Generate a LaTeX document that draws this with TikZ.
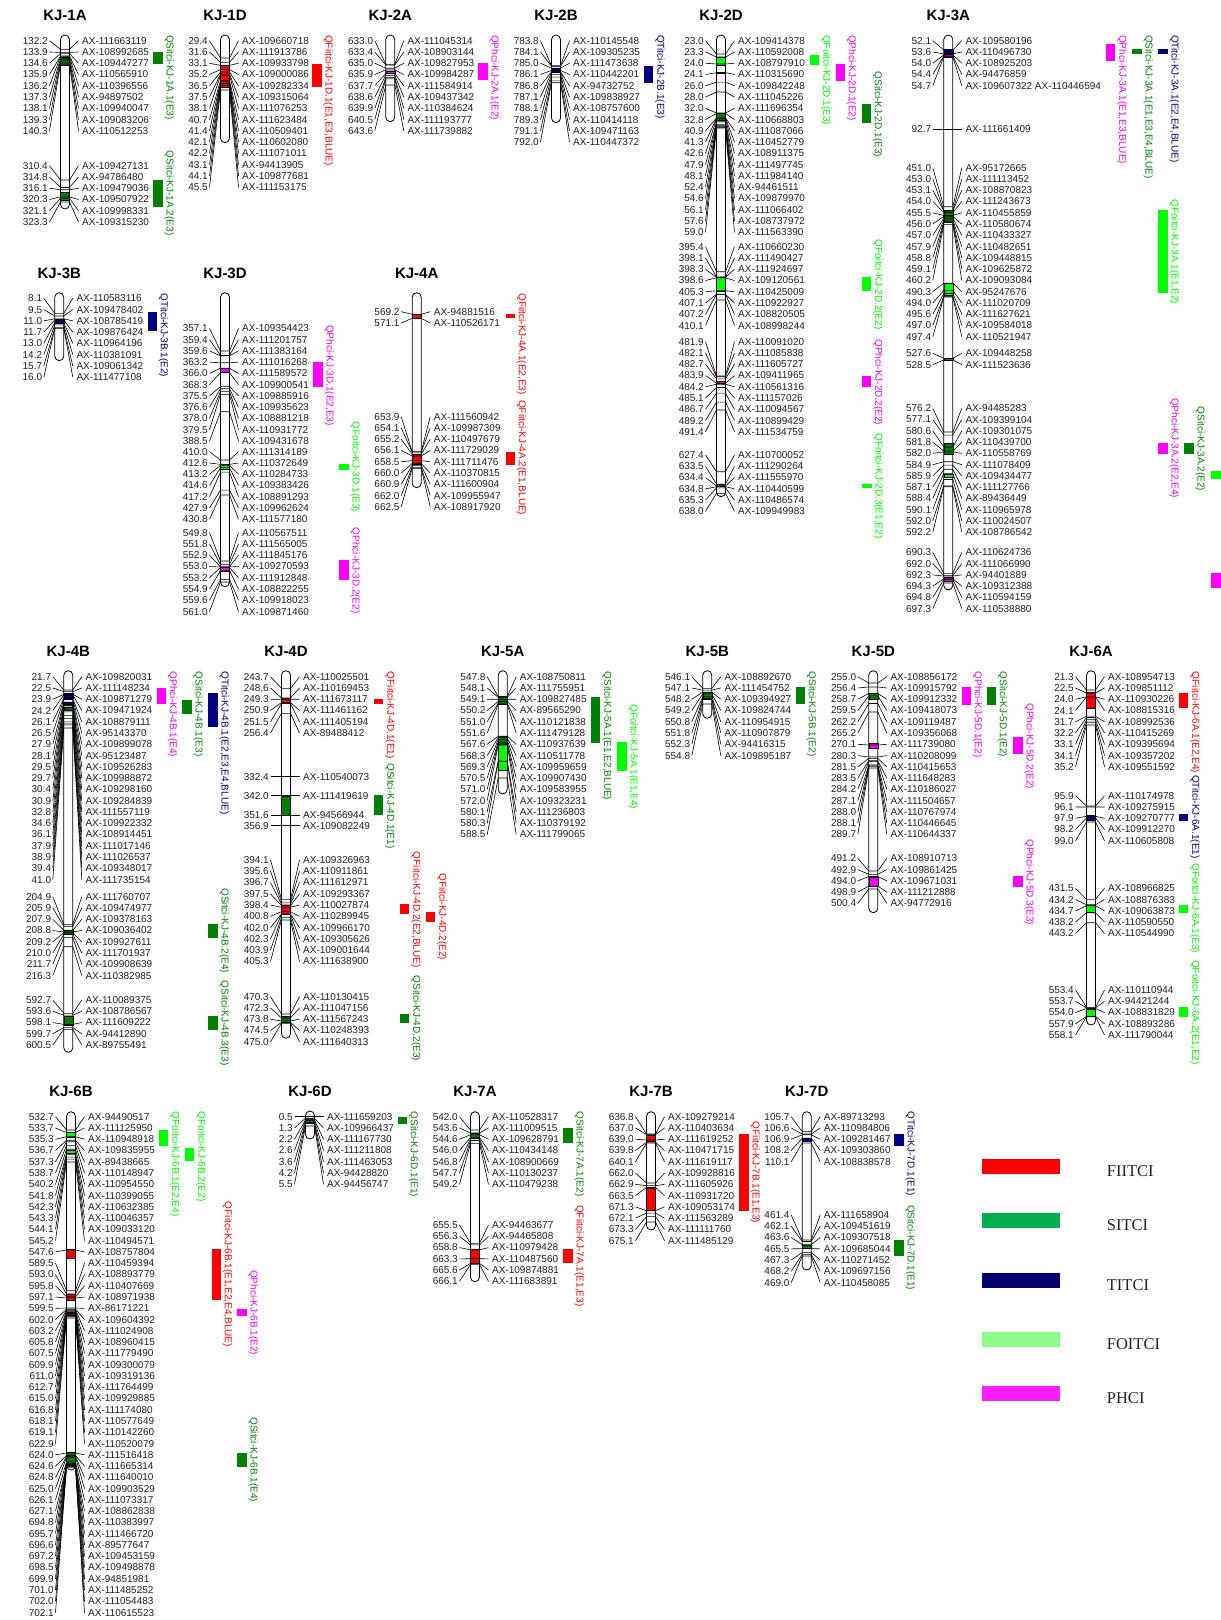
\documentclass[tikz,border=0pt]{standalone}
\usepackage{fontspec}
\setmainfont{Liberation Sans}
\newfontfamily\legendfont{Liberation Serif}
\usepackage{tikz}
\usetikzlibrary{calc}
\definecolor{qfii}{RGB}{255,0,0}
\definecolor{qsit}{RGB}{0,128,0}
\definecolor{qtit}{RGB}{0,0,128}
\definecolor{qfoi}{RGB}{0,255,0}
\definecolor{qphc}{RGB}{255,0,255}
\definecolor{legsit}{RGB}{0,176,80}
\definecolor{legtit}{RGB}{0,0,115}
\definecolor{legfoi}{RGB}{140,255,140}
\definecolor{legphc}{RGB}{255,30,255}

\newcommand{\lblfont}{\fontsize{10}{12}\selectfont}
\tikzset{
	chrtitle/.style={font=\bfseries\fontsize{15}{18}\selectfont},
	chrbar/.style={draw=black, line width=0.8pt, fill=white, rounded corners=4.5pt},
	poslab/.style={anchor=east, inner sep=0pt, font=\lblfont, text=black!88},
	mkrlab/.style={anchor=west, inner sep=0pt, font=\lblfont, text=black!88},
	mline/.style={line width=0.6pt, black, line join=round},
	qtllab/.style={rotate=-90, anchor=south west, inner sep=0pt, font=\lblfont},
	legtext/.style={anchor=base west, inner sep=0pt, text=black!87, font=\legendfont\fontsize{16.5}{20}\selectfont}
}
% name, x, title y, bar top, bar bottom, title
\newcommand{\chrom}[6]{
	\node[chrtitle] (#1) at (#2,#3) {#6};
	\draw[chrbar] (#2-4.5,#4) rectangle (#2+4.5,#5);
}
\newcommand{\band}[4]{
	\filldraw[fill=#4, draw=black, line width=0.4pt] (#1-4.5,#2) rectangle (#1+4.5,#3);
}
% prefix, x, first label y, cM0, bar y0, cM1, bar y1, markers
\newcommand{\mkgroup}[8]{
	\foreach \cm/\mk [count=\i from 0] in {#8}{
		\pgfmathsetmacro{\ly}{#3+\i*11.27}
		\pgfmathsetmacro{\by}{#5+(\cm-#4)*(#7-#5)/(#6-#4)}
		\node[poslab] (#1p\i) at (#2-17,\ly) {\cm};
		\node[mkrlab] (#1m\i) at (#2+17,\ly) {\mk};
		\draw[mline] ([xshift=1.5pt]#1p\i.east) -- (#2-4.5,\by) -- (#2+4.5,\by) -- ([xshift=-3.5pt]#1m\i.west);
	}
}
% name, x, y1, y2, colour, text y, text
\newcommand{\qtl}[7]{
	\fill[#5] (#2,#3) rectangle (#2+9.3,#4);
	\node[qtllab, text=#5] (#1) at (#2+11,#6) {#7};
}

\begin{document}
\begin{tikzpicture}[x=1pt, y=-1pt]
	\useasboundingbox[fill=white] (0,0) rectangle (1221,1620);

	% KJ-1A
	\chrom{c1A}{65}{15}{35}{209}{KJ-1A}
	\band{65}{57}{65}{qsit}
	\band{65}{191.7}{200}{qsit}
	\mkgroup{a1}{65}{40.7}{132.2}{49.3}{140.3}{64}{132.2/AX-111663119, 133.9/AX-108992685, 134.6/AX-109447277, 135.9/AX-110565910, 136.2/AX-110396556, 137.3/AX-94897502, 138.1/AX-109940047, 139.3/AX-109083206, 140.3/AX-110512253}
	\mkgroup{a2}{65}{165.7}{310.4}{180}{323.3}{202}{310.4/AX-109427131, 314.8/AX-94786480, 316.1/AX-109479036, 320.3/AX-109507922, 321.1/AX-109998331, 323.3/AX-109315230}
	\qtl{q1A1}{153.3}{51.7}{64}{qsit}{35}{QSitci-KJ-1A.1(E3)}
	\qtl{q1A2}{153.3}{180}{206.7}{qsit}{150.7}{QSitci-KJ-1A.2(E3)}

	% KJ-1D
	\chrom{c1D}{225}{15}{35}{142.7}{KJ-1D}
	\band{225}{65}{87.3}{qfii}
	\mkgroup{d1}{225}{40.7}{29.4}{58}{45.5}{90}{29.4/AX-109660718, 31.6/AX-111913786, 33.1/AX-109933798, 35.2/AX-109000086, 36.5/AX-109282334, 37.5/AX-109315064, 38.1/AX-111076253, 40.7/AX-111623484, 41.4/AX-110509401, 42.1/AX-110602080, 42.2/AX-111071011, 43.1/AX-94413905, 44.1/AX-109877681, 45.5/AX-111153175}
	\qtl{q1D1}{312.3}{64.3}{87.3}{qfii}{35}{QFiitci-KJ-1D.1(E1,E3,BLUE)}

	% KJ-2A
	\chrom{c2A}{390.3}{15}{35}{121.7}{KJ-2A}
	\band{390.3}{70.7}{73.3}{qphc}
	\mkgroup{e1}{390.3}{40.7}{633.0}{64.3}{643.6}{85}{633.0/AX-111045314, 633.4/AX-108903144, 635.0/AX-109827953, 635.9/AX-109984287, 637.7/AX-111584914, 638.6/AX-109437342, 639.9/AX-110384624, 640.5/AX-111193777, 643.6/AX-111739882}
	\qtl{q2A1}{478.3}{63.3}{80}{qphc}{35}{QPhci-KJ-2A.1(E2)}

	% KJ-2B
	\chrom{c2B}{556}{15}{35}{122.7}{KJ-2B}
	\band{556}{68.3}{71.7}{qtit}
	\mkgroup{f1}{556}{40.7}{783.8}{65.7}{792.0}{82.7}{783.8/AX-110145548, 784.1/AX-109305235, 785.0/AX-111473638, 786.1/AX-110442201, 786.8/AX-94732752, 787.1/AX-109838927, 788.1/AX-108757600, 789.3/AX-110414118, 791.1/AX-109471163, 792.0/AX-110447372}
	\qtl{q2B1}{644}{65.7}{83.3}{qtit}{35}{QTitci-KJ-2B.1(E3)}

	% KJ-2D
	\chrom{c2D}{721}{15}{35}{496.7}{KJ-2D}
	\band{721}{56.7}{65}{qfoi}
	\band{721}{72}{73.5}{qphc}
	\band{721}{113.3}{120}{qsit}
	\band{721}{276.7}{290.7}{qfoi}
	\band{721}{381}{383}{qphc}
	\band{721}{484}{486}{qsit}
	\mkgroup{g1}{721}{40.7}{23.0}{54}{24.0}{64}{23.0/AX-109414378, 23.3/AX-110592008, 24.0/AX-108797910}
	\mkgroup{g2}{721}{74.5}{24.1}{72.7}{28.0}{92}{24.1/AX-110315690, 26.0/AX-109842248, 28.0/AX-111045226}
	\mkgroup{g3}{721}{108.3}{32.0}{113}{59.0}{128}{32.0/AX-111696354, 32.8/AX-110668803, 40.9/AX-111087066, 41.3/AX-110452779, 42.6/AX-108911375, 47.9/AX-111497745, 48.1/AX-111984140, 52.4/AX-94461511, 54.6/AX-109879970, 56.1/AX-111066402, 57.6/AX-108737972, 59.0/AX-111563390}
	\mkgroup{g4}{721}{246.7}{395.4}{271.7}{410.1}{300}{395.4/AX-110660230, 398.1/AX-111490427, 398.3/AX-111924697, 398.6/AX-109120561, 405.3/AX-110425009, 407.1/AX-110922927, 407.2/AX-108820505, 410.1/AX-108998244}
	\mkgroup{g5}{721}{341.7}{481.9}{376}{491.4}{410}{481.9/AX-110091020, 482.1/AX-111085838, 482.7/AX-111605727, 483.9/AX-109411965, 484.2/AX-110561316, 485.1/AX-111157026, 486.7/AX-110094567, 489.2/AX-110899429, 491.4/AX-111534759}
	\mkgroup{g6}{721}{455}{627.4}{471.7}{638.0}{493.3}{627.4/AX-110700052, 633.5/AX-111290264, 634.4/AX-111555970, 634.8/AX-110440599, 635.3/AX-110486574, 638.0/AX-109949983}
	\qtl{q2D1}{810}{55}{65}{qfoi}{35}{QFoitci-KJ-2D.1(E3)}
	\qtl{q2D2}{835.7}{64}{81}{qphc}{35}{QPhci-KJ-2D.1(E2)}
	\qtl{q2D3}{861.7}{104.3}{123.3}{qsit}{71.7}{QSitci-KJ-2D.1(E3)}
	\qtl{q2D4}{862}{277.3}{291}{qfoi}{239.3}{QFoitci-KJ-2D.2(E2)}
	\qtl{q2D5}{862}{376}{386.7}{qphc}{339.3}{QPhci-KJ-2D.2(E2)}
	\qtl{q2D6}{862.3}{484}{488.3}{qfoi}{433.3}{QFoitci-KJ-2D.3(E1,E2)}

	% KJ-3A
	\chrom{c3A}{948.3}{15}{35}{590}{KJ-3A}
	\band{948.3}{49.3}{53.3}{qtit}
	\band{948.3}{54}{56.7}{qphc}
	\band{948.3}{210}{221.7}{qsit}
	\band{948.3}{282.7}{295}{qfoi}
	\band{948.3}{358}{360}{black!40}
	\band{948.3}{443.3}{454.3}{qsit}
	\band{948.3}{474}{476.7}{qfoi}
	\band{948.3}{577.3}{580.7}{qphc}
	\mkgroup{h1}{948.3}{40.7}{52.1}{50}{54.7}{56.7}{52.1/AX-109580196, 53.6/AX-110496730, 54.0/AX-108925203, 54.4/AX-94476859, 54.7/AX-109607322 AX-110446594}
	\mkgroup{h2}{948.3}{129.3}{92.7}{129.3}{93.7}{129.3}{92.7/AX-111661409}
	\mkgroup{h3}{948.3}{167.7}{451.0}{206.7}{497.4}{297}{451.0/AX-95172665, 453.0/AX-111113452, 453.1/AX-108870823, 454.0/AX-111243673, 455.5/AX-110455859, 456.0/AX-110580674, 457.0/AX-110433327, 457.9/AX-110482651, 458.8/AX-109448815, 459.1/AX-109625872, 460.2/AX-109093084, 490.3/AX-95247676, 494.0/AX-111020709, 495.6/AX-111627621, 497.0/AX-109584018, 497.4/AX-110521947}
	\mkgroup{h4}{948.3}{353.3}{527.6}{358.3}{528.5}{360}{527.6/AX-109448258, 528.5/AX-111523636}
	\mkgroup{h5}{948.3}{408.3}{576.2}{432}{592.2}{486.7}{576.2/AX-94485283, 577.1/AX-109399104, 580.6/AX-109301075, 581.8/AX-110439700, 582.0/AX-110558769, 584.9/AX-111078409, 585.9/AX-109434477, 587.1/AX-111127766, 588.4/AX-89436449, 590.1/AX-110965978, 592.0/AX-110024507, 592.2/AX-108786542}
	\mkgroup{h6}{948.3}{552.3}{690.3}{573.3}{697.3}{583}{690.3/AX-110624736, 692.0/AX-111066990, 692.3/AX-94401889, 694.3/AX-109312388, 694.8/AX-110594159, 697.3/AX-110538880}
	\qtl{q3A1}{1106}{44.3}{61}{qphc}{35}{QPhci-KJ-3A.1(E1,E3,BLUE)}
	\qtl{q3A2}{1132.3}{49}{54.3}{qsit}{35}{QSitci-KJ-3A.1(E1,E3,E4,BLUE)}
	\qtl{q3A3}{1158.3}{49}{54.3}{qtit}{35}{QTitci-KJ-3A.1(E2,E4,BLUE)}
	\qtl{q3A4}{1158.3}{210}{293.3}{qfoi}{199.3}{QFoitci-KJ-3A.1(E1,E2)}
	\qtl{q3A5}{1158.3}{443.3}{454.3}{qphc}{398}{QPhci-KJ-3A.2(E2,E4)}
	\qtl{q3A6}{1184.3}{442.7}{454.3}{qsit}{406.5}{QSitci-KJ-3A.2(E2)}
	\fill[qfoi] (1211,470.7) rectangle (1221,479);
	\fill[qphc] (1211,573.3) rectangle (1221,587.7);

	% KJ-3B
	\chrom{c3B}{59.3}{273.3}{292.7}{360.7}{KJ-3B}
	\band{59.3}{319.3}{323.3}{qtit}
	\mkgroup{i1}{59.3}{298.3}{8.1}{313.3}{16.0}{328.3}{8.1/AX-110583116, 9.5/AX-109478402, 11.0/AX-108785419, 11.7/AX-109876424, 13.0/AX-110964196, 14.2/AX-110381091, 15.7/AX-109061342, 16.0/AX-111477108}
	\qtl{q3B1}{147.7}{312.3}{330.7}{qtit}{293.3}{QTitci-KJ-3B.1(E2)}

	% KJ-3D
	\chrom{c3D}{225}{273.3}{292.7}{586.7}{KJ-3D}
	\band{225}{368.3}{372.3}{qphc}
	\band{225}{464.3}{469.3}{qfoi}
	\band{225}{567.3}{570.7}{qphc}
	\mkgroup{j1}{225}{328.3}{357.1}{351}{388.5}{411.7}{357.1/AX-109354423, 359.4/AX-111201757, 359.6/AX-111383164, 363.2/AX-111016268, 366.0/AX-111589572, 368.3/AX-109900541, 375.5/AX-109885916, 376.6/AX-109935623, 378.0/AX-108881218, 379.5/AX-110931772, 388.5/AX-109431678}
	\mkgroup{j2}{225}{451.7}{410.0}{460}{430.8}{495}{410.0/AX-111314189, 412.6/AX-110372649, 413.2/AX-110284733, 414.6/AX-109383426, 417.2/AX-108891293, 427.9/AX-109962624, 430.8/AX-111577180}
	\mkgroup{j3}{225}{532.7}{549.8}{561}{561.0}{582}{549.8/AX-110567511, 551.8/AX-111565005, 552.9/AX-111845176, 553.0/AX-109270593, 553.2/AX-111912848, 554.9/AX-108822255, 559.6/AX-109918023, 561.0/AX-109871460}
	\qtl{q3D1}{313.3}{362.3}{387.3}{qphc}{325}{QPhci-KJ-3D.1(E2,E3)}
	\qtl{q3D2}{339.3}{464}{470}{qfoi}{421.7}{QFoitci-KJ-3D.1(E3)}
	\qtl{q3D3}{339.3}{560}{580}{qphc}{527.7}{QPhci-KJ-3D.2(E2)}

	% KJ-4A
	\chrom{c4A}{416.7}{273.3}{292.7}{487.7}{KJ-4A}
	\band{416.7}{314.3}{318.3}{qfii}
	\band{416.7}{454.3}{464.3}{qfii}
	\mkgroup{k1}{416.7}{311.7}{569.2}{314.3}{571.1}{318.3}{569.2/AX-94881516, 571.1/AX-110526171}
	\mkgroup{k2}{416.7}{416.7}{653.9}{451.7}{662.5}{468.3}{653.9/AX-111560942, 654.1/AX-109987309, 655.2/AX-110497679, 656.1/AX-111729029, 658.5/AX-111711476, 660.0/AX-110370815, 660.9/AX-111600904, 662.0/AX-109955947, 662.5/AX-108917920}
	\qtl{q4A1}{505.7}{314.3}{318.3}{qfii}{293.3}{QFiitci-KJ-4A.1(E2,E3)}
	\qtl{q4A2}{505.7}{452.3}{465}{qfii}{400}{QFiitci-KJ-4A.2(E1,BLUE)}

	% KJ-4B
	\chrom{c4B}{68.3}{651.7}{670.7}{1052.3}{KJ-4B}
	\band{68.3}{693.3}{698.3}{qtit}
	\band{68.3}{701.7}{704.3}{qtit}
	\band{68.3}{706.7}{710}{qsit}
	\band{68.3}{930}{934}{qsit}
	\band{68.3}{1016}{1025}{qsit}
	\mkgroup{l1}{68.3}{676.7}{21.7}{690}{41.0}{728}{21.7/AX-109820031, 22.5/AX-111148234, 23.9/AX-109871279, 24.2/AX-109471924, 26.1/AX-108879111, 26.5/AX-95143370, 27.9/AX-109899078, 28.1/AX-95123487, 29.5/AX-109526283, 29.7/AX-109988872, 30.4/AX-109298160, 30.9/AX-109284839, 32.8/AX-111557119, 34.6/AX-109922332, 36.1/AX-108914451, 37.9/AX-111017146, 38.9/AX-111026537, 39.4/AX-109348017, 41.0/AX-111735154}
	\mkgroup{l2}{68.3}{896.7}{204.9}{924.3}{216.3}{946.7}{204.9/AX-111760707, 205.9/AX-109474977, 207.9/AX-109378163, 208.8/AX-109036402, 209.2/AX-109927611, 210.0/AX-111701937, 211.7/AX-109908639, 216.3/AX-110382985}
	\mkgroup{l3}{68.3}{1000}{592.7}{1013.3}{600.5}{1029.3}{592.7/AX-110089375, 593.6/AX-108786567, 598.1/AX-111609222, 599.7/AX-94412890, 600.5/AX-89755491}
	\qtl{q4B1}{156.7}{687.7}{704.3}{qphc}{671.7}{QPhci-KJ-4B.1(E4)}
	\qtl{q4B2}{182.3}{700}{714.3}{qsit}{671.7}{QSitci-KJ-4B.1(E3)}
	\qtl{q4B3}{208.3}{693.3}{727.3}{qtit}{671.7}{QTitci-KJ-4B.1(E2,E3,E4,BLUE)}
	\qtl{q4B4}{208.3}{924}{938.3}{qsit}{888.3}{QSitci-KJ-4B.2(E4)}
	\qtl{q4B5}{208.3}{1015.7}{1030}{qsit}{980.7}{QSitci-KJ-4B.3(E3)}

	% KJ-4D
	\chrom{c4D}{286}{651.7}{670.7}{1038.3}{KJ-4D}
	\band{286}{698.3}{703.3}{qfii}
	\band{286}{795.7}{815}{qsit}
	\band{286}{905}{914}{qfii}
	\band{286}{1016}{1022}{qsit}
	\mkgroup{m1}{286}{676.7}{243.7}{688.3}{256.4}{713.3}{243.7/AX-110025501, 248.6/AX-110169453, 249.3/AX-111673117, 250.9/AX-111461162, 251.5/AX-111405194, 256.4/AX-89488412}
	\mkgroup{m2}{286}{776.7}{332.4}{776.7}{333.4}{776.7}{332.4/AX-110540073}
	\mkgroup{m3}{286}{795.7}{342.0}{795.7}{343.0}{795.7}{342.0/AX-111419619}
	\mkgroup{m4}{286}{815}{351.6}{815}{352.6}{815}{351.6/AX-94566944}
	\mkgroup{m5}{286}{825.7}{356.9}{825.7}{357.9}{825.7}{356.9/AX-109082249}
	\mkgroup{m6}{286}{860}{394.1}{899.3}{405.3}{920}{394.1/AX-109326963, 395.6/AX-110911861, 396.7/AX-111612971, 397.5/AX-109293367, 398.4/AX-110027874, 400.8/AX-110289945, 402.0/AX-109966170, 402.3/AX-109305626, 403.9/AX-109001644, 405.3/AX-111638900}
	\mkgroup{m7}{286}{996.7}{470.3}{1014}{475.0}{1023.3}{470.3/AX-110130415, 472.3/AX-111047156, 473.8/AX-111567243, 474.5/AX-110248393, 475.0/AX-111640313}
	\qtl{q4D1}{374}{699}{704.3}{qfii}{671.7}{QFiitci-KJ-4D.1(E1)}
	\qtl{q4D2}{374}{795}{815}{qsit}{763.3}{QSitci-KJ-4D.1(E1)}
	\qtl{q4D3}{400}{904.3}{914.3}{qfii}{851.7}{QFiitci-KJ-4D.2(E2,BLUE)}
	\qtl{q4D4}{426}{911.7}{921.7}{qfii}{873.3}{QFiitci-KJ-4D.2(E2)}
	\qtl{q4D5}{400}{1014}{1023.3}{qsit}{975.7}{QSitci-KJ-4D.2(E3)}

	% KJ-5A
	\chrom{c5A}{502.7}{651.7}{670.7}{794}{KJ-5A}
	\band{502.7}{696}{704}{qsit}
	\band{502.7}{736}{744.3}{qsit}
	\band{502.7}{744.3}{770}{qfoi}
	\mkgroup{n1}{502.7}{676.7}{547.8}{696.7}{588.5}{778}{547.8/AX-108750811, 548.1/AX-111755951, 549.1/AX-109827485, 550.2/AX-89565290, 551.0/AX-110121838, 551.6/AX-111479128, 567.6/AX-110937639, 568.3/AX-110511778, 569.3/AX-109959659, 570.5/AX-109907430, 571.0/AX-109583955, 572.0/AX-109323231, 580.1/AX-111236803, 580.3/AX-110379192, 588.5/AX-111799065}
	\qtl{q5A1}{591}{696.7}{742.7}{qsit}{671.7}{QSitci-KJ-5A.1(E1,E2,BLUE)}
	\qtl{q5A2}{617.3}{742.3}{770.7}{qfoi}{704.3}{QFoitci-KJ-5A.1(E1,E4)}

	% KJ-5B
	\chrom{c5B}{707.3}{651.7}{670.7}{718.3}{KJ-5B}
	\band{707.3}{692.3}{698.3}{qsit}
	\mkgroup{o1}{707.3}{676.7}{546.1}{688.3}{554.8}{704}{546.1/AX-108892670, 547.1/AX-111454752, 548.2/AX-109394927, 549.2/AX-109824744, 550.8/AX-110954915, 551.8/AX-110907879, 552.3/AX-94416315, 554.8/AX-109895187}
	\qtl{q5B1}{795.7}{686.7}{704.3}{qsit}{671.7}{QSitci-KJ-5B.1(E2)}

	% KJ-5D
	\chrom{c5D}{873.3}{651.7}{670.7}{912.7}{KJ-5D}
	\band{873.3}{693.3}{699}{qsit}
	\band{873.3}{743.3}{748.3}{qphc}
	\band{873.3}{876.7}{886}{qphc}
	\mkgroup{r1}{873.3}{676.7}{255.0}{683}{265.2}{712}{255.0/AX-108856172, 256.4/AX-109915792, 258.7/AX-109912332, 259.5/AX-109418073, 262.2/AX-109119487, 265.2/AX-109356068}
	\mkgroup{r2}{873.3}{744.3}{270.1}{745}{289.7}{768}{270.1/AX-111739080, 280.3/AX-110208099, 281.5/AX-110415653, 283.5/AX-111648283, 284.2/AX-110186027, 287.1/AX-111504657, 288.0/AX-110767974, 288.1/AX-110446645, 289.7/AX-110644337}
	\mkgroup{r3}{873.3}{858.3}{491.2}{871}{500.4}{889}{491.2/AX-108910713, 492.9/AX-109861425, 494.0/AX-109671031, 498.9/AX-111212888, 500.4/AX-94772916}
	\qtl{q5D1}{961.7}{687.3}{705}{qphc}{671.7}{QPhci-KJ-5D.1(E2)}
	\qtl{q5D2}{986.7}{687.3}{705}{qsit}{671.7}{QSitci-KJ-5D.1(E2)}
	\qtl{q5D3}{1013.3}{737.3}{754.3}{qphc}{703.3}{QPhci-KJ-5D.2(E2)}
	\qtl{q5D4}{1013.3}{876}{886.7}{qphc}{839.3}{QPhci-KJ-5D.3(E3)}

	% KJ-6A
	\chrom{c6A}{1091}{651.7}{670.7}{1025}{KJ-6A}
	\band{1091}{692.3}{708.3}{qfii}
	\band{1091}{815}{820}{qtit}
	\band{1091}{905}{911.7}{qfoi}
	\band{1091}{1009}{1015.7}{qfoi}
	\mkgroup{s1}{1091}{676.7}{21.3}{690}{35.2}{725}{21.3/AX-108954713, 22.5/AX-109851112, 24.0/AX-110930226, 24.1/AX-108815316, 31.7/AX-108992536, 32.2/AX-110415269, 33.1/AX-109395694, 34.1/AX-109357202, 35.2/AX-109551592}
	\mkgroup{s2}{1091}{795.7}{95.9}{806}{99.0}{822}{95.9/AX-110174978, 96.1/AX-109275915, 97.9/AX-109270777, 98.2/AX-109912270, 99.0/AX-110605808}
	\mkgroup{s3}{1091}{888.3}{431.5}{899.3}{443.2}{922.7}{431.5/AX-108966825, 434.2/AX-108876383, 434.7/AX-109063873, 438.2/AX-110590550, 443.2/AX-110544990}
	\mkgroup{s4}{1091}{990}{553.4}{1007.3}{558.1}{1016.7}{553.4/AX-110110944, 553.7/AX-94421244, 554.0/AX-108831829, 557.9/AX-108893286, 558.1/AX-111790044}
	\qtl{q6A1}{1179}{693.3}{708.3}{qfii}{671.7}{QFiitci-KJ-6A.1(E2,E4)}
	\qtl{q6A2}{1179}{814}{821}{qtit}{775}{QTitci-KJ-6A.1(E1)}
	\qtl{q6A3}{1179}{905}{912.7}{qfoi}{863.3}{QFoitci-KJ-6A.1(E3)}
	\qtl{q6A4}{1179}{1007.3}{1017.3}{qfoi}{960}{QFoitci-KJ-6A.2(E1,E2)}

	% KJ-6B
	\chrom{c6B}{71}{1091}{1111.7}{1470}{KJ-6B}
	\band{71}{1131.7}{1136.7}{qfoi}
	\band{71}{1150}{1153.3}{qfoi}
	\band{71}{1249.3}{1258.3}{qfii}
	\band{71}{1294}{1300}{qfii}
	\band{71}{1313}{1315}{qphc}
	\band{71}{1452.3}{1463.3}{qsit}
	\mkgroup{u1}{71}{1116.7}{532.7}{1130}{545.2}{1162}{532.7/AX-94490517, 533.7/AX-111125950, 535.3/AX-110948918, 536.7/AX-109835955, 537.3/AX-89438665, 538.7/AX-110148947, 540.2/AX-110954550, 541.8/AX-110399055, 542.3/AX-110632385, 543.3/AX-110046357, 544.1/AX-109033120, 545.2/AX-110494571}
	\mkgroup{u2}{71}{1251.9}{547.6}{1250}{597.1}{1298}{547.6/AX-108757804, 589.5/AX-110459394, 593.0/AX-108893779, 595.8/AX-110407669, 597.1/AX-108971938}
	\mkgroup{u3}{71}{1308.3}{599.5}{1308}{622.9}{1318}{599.5/AX-86171221, 602.0/AX-109604392, 603.2/AX-111024908, 605.8/AX-108960415, 607.5/AX-111779490, 609.9/AX-109300079, 611.0/AX-109319136, 612.7/AX-111764499, 615.0/AX-109929885, 616.8/AX-111174080, 618.1/AX-110577649, 619.1/AX-110142260, 622.9/AX-110520079}
	\mkgroup{u4}{71}{1454.8}{624.0}{1453}{627.1}{1466}{624.0/AX-111516418, 624.6/AX-111665314, 624.8/AX-111640010, 625.0/AX-109903529, 626.1/AX-111073317, 627.1/AX-108862838}
	\mkgroup{u5}{71}{1522.4}{694.8}{1464}{702.1}{1467}{694.8/AX-110383997, 695.7/AX-111466720, 696.6/AX-89577647, 697.2/AX-109453159, 698.5/AX-109498878, 699.9/AX-94851981, 701.0/AX-111485252, 702.0/AX-111054483, 702.1/AX-110615523}
	\qtl{q6B1}{159}{1130}{1146}{qfoi}{1111.7}{QFoitci-KJ-6B.1(E2,E4)}
	\qtl{q6B2}{185}{1148.3}{1160.7}{qfoi}{1111.7}{QFoitci-KJ-6B.2(E2)}
	\qtl{q6B3}{211.7}{1249.3}{1300}{qfii}{1201.7}{QFiitci-KJ-6B.1(E1,E2,E4,BLUE)}
	\qtl{q6B4}{237.3}{1309}{1315.7}{qphc}{1270}{QPhci-KJ-6B.1(E2)}
	\qtl{q6B5}{237.3}{1453.3}{1466.7}{qsit}{1417.3}{QSitci-KJ-6B.1(E4)}

	% KJ-6D
	\chrom{c6D}{310}{1091}{1111}{1139}{KJ-6D}
	\band{310}{1118.3}{1123.3}{qsit}
	\mkgroup{v1}{310}{1116.7}{0.5}{1116.7}{5.5}{1126}{0.5/AX-111659203, 1.3/AX-109966437, 2.2/AX-111167730, 2.6/AX-111211808, 3.6/AX-111463053, 4.2/AX-94428820, 5.5/AX-94456747}
	\qtl{q6D1}{397.7}{1117.3}{1124}{qsit}{1111.7}{QSitci-KJ-6D.1(E1)}

	% KJ-7A
	\chrom{c7A}{475}{1091}{1111.7}{1281.7}{KJ-7A}
	\band{475}{1133.3}{1138.3}{qsit}
	\band{475}{1249.3}{1263.3}{qfii}
	\mkgroup{w1}{475}{1116.7}{542.0}{1130}{549.2}{1143.3}{542.0/AX-110528317, 543.6/AX-111009515, 544.6/AX-109628791, 546.0/AX-110434148, 546.8/AX-108900669, 547.7/AX-110130237, 549.2/AX-110479238}
	\mkgroup{w2}{475}{1225}{655.5}{1243.3}{666.1}{1264.3}{655.5/AX-94463677, 656.3/AX-94465808, 658.8/AX-110979428, 663.3/AX-110487560, 665.6/AX-109874881, 666.1/AX-111683891}
	\qtl{q7A1}{563.3}{1128.3}{1143.3}{qsit}{1111.7}{QSitci-KJ-7A.1(E2)}
	\qtl{q7A2}{563.3}{1249}{1263.3}{qfii}{1205}{QFiitci-KJ-7A.1(E1,E3)}

	% KJ-7B
	\chrom{c7B}{651}{1091}{1111.7}{1230}{KJ-7B}
	\band{651}{1135}{1141}{qfii}
	\band{651}{1187.7}{1210}{qfii}
	\mkgroup{x1}{651}{1116.7}{636.8}{1134}{640.1}{1143}{636.8/AX-109279214, 637.0/AX-110403634, 639.0/AX-111619252, 639.8/AX-110471715, 640.1/AX-111619117}
	\mkgroup{x2}{651}{1173.05}{662.0}{1183}{675.1}{1222}{662.0/AX-109928816, 662.9/AX-111605926, 663.5/AX-110931720, 671.3/AX-109053174, 672.1/AX-111563289, 673.3/AX-111111760, 675.1/AX-111485129}
	\qtl{q7B1}{739.3}{1134}{1210.7}{qfii}{1121.7}{QFiitci-KJ-7B.1(E1,E3)}

	% KJ-7D
	\chrom{c7D}{806.7}{1091}{1111.7}{1270}{KJ-7D}
	\band{806.7}{1137.7}{1141}{qtit}
	\band{806.7}{1245}{1248.3}{qsit}
	\mkgroup{y1}{806.7}{1116.7}{105.7}{1131.7}{110.1}{1143}{105.7/AX-89713293, 106.6/AX-110984806, 106.9/AX-109281467, 108.2/AX-109303860, 110.1/AX-108838578}
	\mkgroup{y2}{806.7}{1215}{461.4}{1240}{469.0}{1256}{461.4/AX-111658904, 462.1/AX-109451619, 463.6/AX-109307518, 465.5/AX-109685044, 467.3/AX-110271452, 468.2/AX-109697156, 469.0/AX-110458085}
	\qtl{q7D1}{894.3}{1134}{1146}{qtit}{1111.7}{QTitci-KJ-7D.1(E1)}
	\qtl{q7D2}{894.3}{1240}{1256}{qsit}{1205}{QSitci-KJ-7D.1(E1)}

	% legend
	\foreach \y/\c/\t [count=\k] in {1159/qfii/FIITCI, 1213.3/legsit/SITCI, 1273.3/legtit/TITCI, 1332.3/legfoi/FOITCI, 1386/legphc/PHCI}{
		\fill[\c] (981.7,\y) rectangle (1059.7,\y+14.5);
		\node[legtext] (leg\k) at (1106.7,\y+17.5) {\t};
	}
\end{tikzpicture}
\end{document}
